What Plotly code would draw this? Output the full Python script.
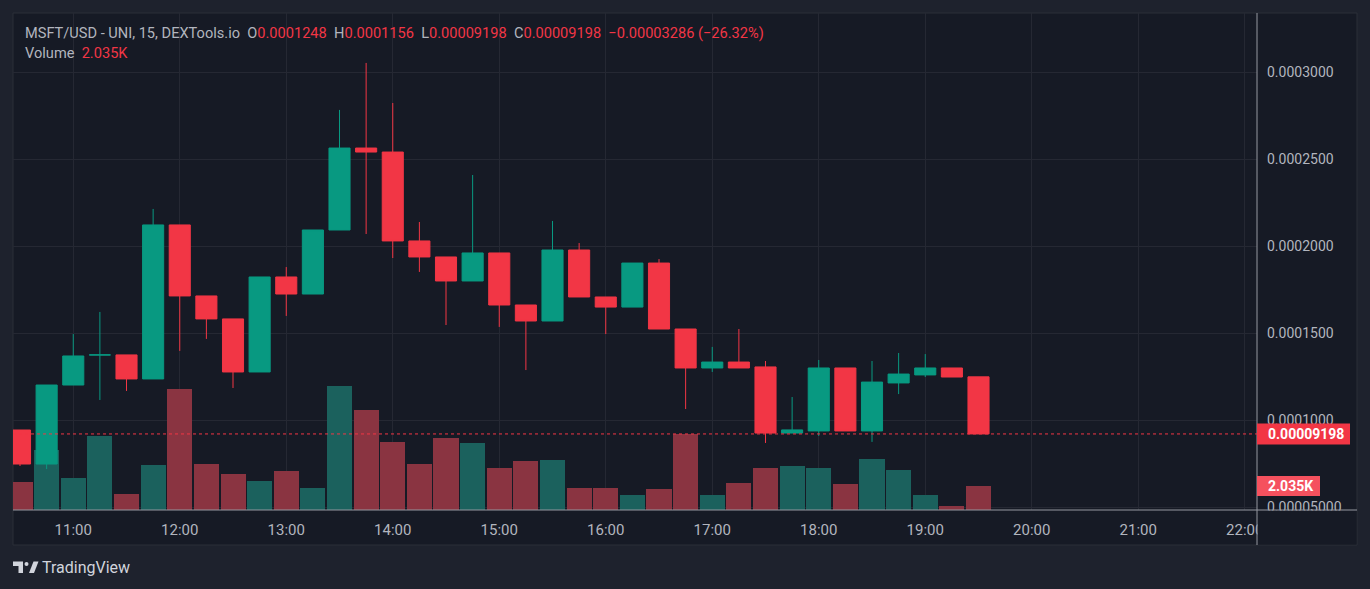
import plotly.graph_objects as go

# ---------------- data ----------------
times = ["10:30", "10:45", "11:00", "11:15", "11:30", "11:45", "12:00", "12:15",
         "12:30", "12:45", "13:00", "13:15", "13:30", "13:45", "14:00", "14:15",
         "14:30", "14:45", "15:00", "15:15", "15:30", "15:45", "16:00", "16:15",
         "16:30", "16:45", "17:00", "17:15", "17:30", "17:45", "18:00", "18:15",
         "18:30", "18:45", "19:00", "19:15", "19:30"]

open_ = [0.00009425, 0.0000747, 0.0001201, 0.0001374, 0.0001374, 0.0001236, 0.0002121, 0.0001713,
         0.0001581, 0.0001276, 0.0001822, 0.0001724, 0.0002092, 0.0002563, 0.0002540, 0.0002029,
         0.0001937, 0.0001799, 0.0001960, 0.0001661, 0.0001569, 0.0001977, 0.0001707, 0.0001649,
         0.0001902, 0.0001523, 0.0001299, 0.0001333, 0.0001305, 0.0000925, 0.0000937, 0.0001299,
         0.0000937, 0.0001213, 0.0001259, 0.0001299, 0.0001248]
high = [0.00009425, 0.0001201, 0.0001494, 0.0001621, 0.0001374, 0.0002213, 0.0002121, 0.0001713,
        0.0001581, 0.0001822, 0.0001879, 0.0002092, 0.0002782, 0.0003052, 0.0002822, 0.0002138,
        0.0001937, 0.0002408, 0.0001960, 0.0001661, 0.0002144, 0.0002017, 0.0001707, 0.0001902,
        0.0001925, 0.0001523, 0.0001420, 0.0001523, 0.0001339, 0.0001132, 0.0001345, 0.0001299,
        0.0001339, 0.0001385, 0.0001379, 0.0001299, 0.0001248]
low = [0.00007356, 0.0000718, 0.0001201, 0.0001115, 0.0001167, 0.0001236, 0.0001397, 0.0001466,
       0.0001184, 0.0001276, 0.0001598, 0.0001724, 0.0002092, 0.0002069, 0.0001931, 0.0001851,
       0.0001546, 0.0001799, 0.0001535, 0.0001287, 0.0001569, 0.0001707, 0.0001494, 0.0001649,
       0.0001523, 0.0001063, 0.0001276, 0.0001299, 0.0000868, 0.0000925, 0.0000908, 0.0000937,
       0.0000874, 0.0001149, 0.0001247, 0.0001247, 0.00009198]
close = [0.0000747, 0.0001201, 0.0001368, 0.0001374, 0.0001236, 0.0002121, 0.0001713, 0.0001581,
         0.0001276, 0.0001822, 0.0001724, 0.0002092, 0.0002563, 0.0002540, 0.0002029, 0.0001937,
         0.0001799, 0.0001960, 0.0001661, 0.0001569, 0.0001977, 0.0001707, 0.0001649, 0.0001902,
         0.0001523, 0.0001299, 0.0001333, 0.0001299, 0.0000925, 0.0000943, 0.0001299, 0.0000937,
         0.0001218, 0.0001264, 0.0001299, 0.0001247, 0.00009198]
volume = [2370, 5090, 2710, 6280, 1360, 3820, 10260, 3900, 3050, 2460, 3310, 1870, 10520,
          8480, 5770, 3900, 6110, 5680, 3560, 4160, 4240, 1870, 1870, 1270, 1780, 6450,
          1270, 2290, 3560, 3730, 3560, 2210, 4330, 3390, 1270, 340, 2035]

price_ticks = [0.00005, 0.0001, 0.00015, 0.0002, 0.00025, 0.0003]
price_tick_labels = ["0.00005000", "0.0001000", "0.0001500", "0.0002000", "0.0002500", "0.0003000"]

last_price = 0.00009198
last_price_label = "0.00009198"
last_volume = 2035
last_volume_label = "2.035K"

header_label = "MSFT/USD - UNI, 15, DEXTools.io"
ohlc_values = ["0.0001248", "0.0001156", "0.00009198", "0.00009198"]
change_label = "\u22120.00003286 (\u221226.32%)"

DAY = "2024-01-01 "

# ---------------- styling ----------------
UP = "#089981"
DOWN = "#f23645"
VOL_UP = "#1b615d"
VOL_DOWN = "#8a3441"
PANEL = "#161a25"
OUTER = "#1e222d"
GRID = "#252833"
AXIS_LINE = "#9598a1"
TEXT = "#b2b5be"
FONT = "Roboto"

# direction per candle (plotly rule: equal open/close compares with previous close)
colors = []
prev_close = None
inc = True
for o, c in zip(open_, close):
    if c == o:
        if prev_close is not None and c != prev_close:
            inc = c > prev_close
    else:
        inc = c > o
    colors.append(VOL_UP if inc else VOL_DOWN)
    prev_close = c

x = [DAY + t for t in times]

# plot area in pixels
L, R, T, B = 13, 1257, 13, 510
W, H = 1370, 589


def px(v):
    return (v - L) / (R - L)


def py(v):
    return (B - v) / (B - T)


fig = go.Figure()

fig.add_trace(go.Bar(
    x=x, y=volume, marker=dict(color=colors, line=dict(width=0)),
    width=846000, yaxis="y", showlegend=False, hoverinfo="skip"))

fig.add_trace(go.Candlestick(
    x=x, open=open_, high=high, low=low, close=close, yaxis="y2",
    increasing=dict(line=dict(color=UP, width=1), fillcolor=UP),
    decreasing=dict(line=dict(color=DOWN, width=1), fillcolor=DOWN),
    whiskerwidth=0, showlegend=False))

# price axis range from pixel geometry (0.00005 per 87 px, 0.0003 at y=72)
ppu = 87 / 0.00005
y2_range = [0.0003 - (B - 72) / ppu, 0.0003 + (72 - T) / ppu]
vol_range = [0, last_volume * (B - T) / 24.0]

shapes = []
# inner panel
shapes.append(dict(type="rect", xref="paper", yref="paper", layer="below",
                   x0=px(13), x1=px(1357), y0=py(545), y1=py(13),
                   fillcolor=PANEL, line=dict(color="#2a2e39", width=1)))
# cover for overflow of time labels into price-scale area
shapes.append(dict(type="rect", xref="paper", yref="paper", layer="above",
                   x0=px(1257.5), x1=px(1356.5), y0=py(544.5), y1=py(510.5),
                   fillcolor=PANEL, line=dict(width=0)))
# axis lines
shapes.append(dict(type="line", xref="paper", yref="paper", layer="above",
                   x0=px(13), x1=px(1357), y0=py(510), y1=py(510),
                   line=dict(color=AXIS_LINE, width=1)))
shapes.append(dict(type="line", xref="paper", yref="paper", layer="above",
                   x0=px(1257), x1=px(1257), y0=py(545), y1=py(13),
                   line=dict(color=AXIS_LINE, width=1)))
# last price dotted line
shapes.append(dict(type="line", xref="paper", yref="y2", layer="above",
                   x0=0, x1=1, y0=last_price, y1=last_price,
                   line=dict(color=DOWN, width=1, dash="dot")))
# last price label box
shapes.append(dict(type="rect", xref="paper", yref="y2", layer="above",
                   x0=px(1257), x1=px(1350), ysizemode="pixel", yanchor=last_price,
                   y0=-10.5, y1=10.5, fillcolor=DOWN, line=dict(width=0)))
# last volume label box
shapes.append(dict(type="rect", xref="paper", yref="y", layer="above",
                   x0=px(1257), x1=px(1320), ysizemode="pixel", yanchor=last_volume,
                   y0=-10, y1=10, fillcolor="#f5515e", line=dict(width=0)))
# TradingView logo
shapes.append(dict(type="path", xref="paper", yref="paper", layer="above",
                   path="M{},{} L{},{} L{},{} L{},{} L{},{} L{},{} Z".format(
                       px(13), py(561.5), px(23), py(561.5), px(23), py(573),
                       px(18.5), py(573), px(18.5), py(566), px(13), py(566)),
                   fillcolor="#d1d4dc", line=dict(width=0)))
shapes.append(dict(type="circle", xref="paper", yref="paper", layer="above",
                   x0=px(24.5), x1=px(28.5), y0=py(566), y1=py(562),
                   fillcolor="#d1d4dc", line=dict(width=0)))
shapes.append(dict(type="path", xref="paper", yref="paper", layer="above",
                   path="M{},{} L{},{} L{},{} L{},{} Z".format(
                       px(29), py(573), px(33.5), py(561.5), px(38.5), py(561.5),
                       px(34), py(573)),
                   fillcolor="#d1d4dc", line=dict(width=0)))

gray = lambda s: '<span style="color:%s">%s</span>' % (TEXT, s)
red = lambda s: '<span style="color:%s">%s</span>' % (DOWN, s)
sp = "\u00a0\u00a0"
header = (gray(header_label + sp + "O") + red(ohlc_values[0]) + gray(sp + "H") + red(ohlc_values[1])
          + gray(sp + "L") + red(ohlc_values[2]) + gray(sp + "C") + red(ohlc_values[3])
          + red(sp + change_label))

annotations = [
    dict(xref="paper", yref="paper", x=px(23), y=py(33), xanchor="left", yanchor="middle",
         text=header, showarrow=False, font=dict(family=FONT, size=14.6, color=TEXT)),
    dict(xref="paper", yref="paper", x=px(23), y=py(53), xanchor="left", yanchor="middle",
         text=gray("Volume" + sp) + red(last_volume_label), showarrow=False,
         font=dict(family=FONT, size=14.6, color=TEXT)),
    dict(xref="paper", yref="y2", x=px(1266), y=last_price, xanchor="left", yanchor="middle",
         text="<b>" + last_price_label + "</b>", showarrow=False,
         font=dict(family=FONT, size=14, color="#ffffff")),
    dict(xref="paper", yref="y", x=px(1266), y=last_volume, xanchor="left", yanchor="middle",
         text="<b>" + last_volume_label + "</b>", showarrow=False,
         font=dict(family=FONT, size=14, color="#ffffff")),
    dict(xref="paper", yref="paper", x=px(40), y=py(567), xanchor="left", yanchor="middle",
         text="TradingView", showarrow=False,
         font=dict(family=FONT, size=16, color="#d1d4dc")),
]

fig.update_layout(
    width=W, height=H,
    margin=dict(l=L, r=W - R, t=T, b=H - B, pad=0),
    paper_bgcolor=OUTER, plot_bgcolor=PANEL,
    font=dict(family=FONT, color=TEXT, size=14),
    boxgap=0.1, boxgroupgap=0.12,
    bargap=0,
    showlegend=False,
    xaxis=dict(type="date", range=[DAY + "10:26:03", DAY + "22:06:54"],
               tickformat="%H:%M", dtick=3600000, tick0=DAY + "00:00",
               showgrid=True, gridcolor=GRID, gridwidth=1, zeroline=False,
               showline=False, ticks="", ticklabelstandoff=9,
               tickfont=dict(family=FONT, size=15, color=TEXT),
               rangeslider=dict(visible=False), fixedrange=True),
    yaxis=dict(range=vol_range, visible=False, showgrid=False, fixedrange=True),
    yaxis2=dict(overlaying="y", side="right", anchor="x", range=y2_range,
                tickvals=price_ticks, ticktext=price_tick_labels,
                showgrid=True, gridcolor=GRID, gridwidth=1, zeroline=False,
                showline=False, ticks="", ticklabelstandoff=9,
                tickfont=dict(family=FONT, size=14, color=TEXT), fixedrange=True),
    shapes=shapes,
    annotations=annotations,
)

fig.write_html(
    "out.html",
    config={"displayModeBar": False},
    post_script="document.body.style.margin='0';document.body.style.background='%s';" % OUTER,
)
